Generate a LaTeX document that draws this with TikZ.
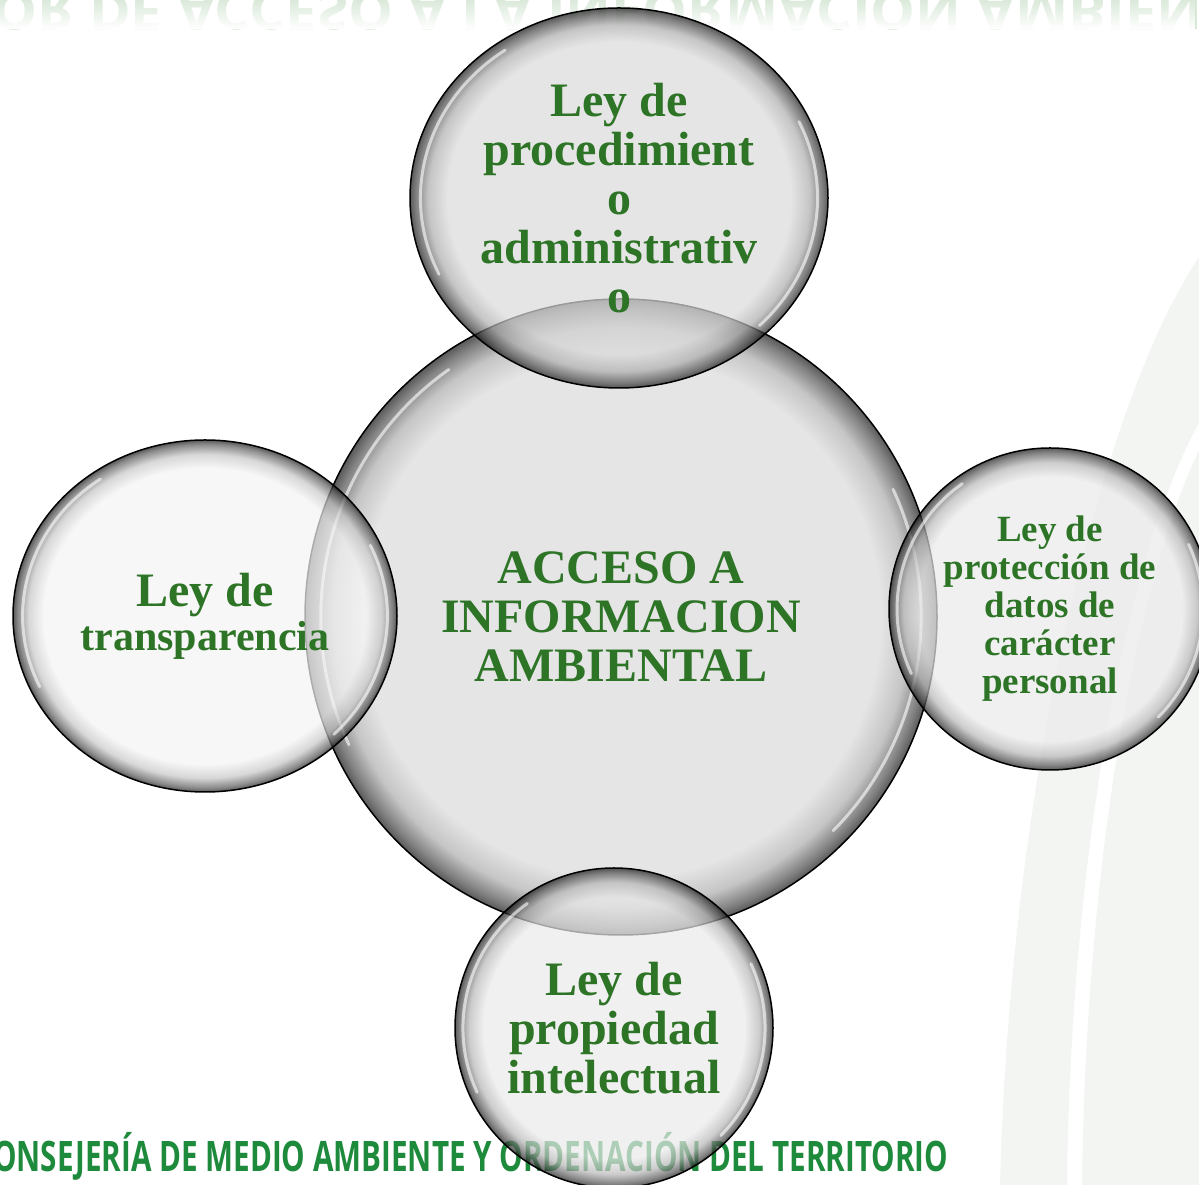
\documentclass[tikz,border=0pt]{standalone}
\usepackage{fontspec}
\setmainfont{Liberation Serif}
\newfontfamily\logofont{Open Sans}
\usetikzlibrary{shapes.geometric,fadings,calc}

\definecolor{leygreen}{RGB}{45,116,38}
\definecolor{logogreen}{RGB}{30,138,60}
\definecolor{ghostgreen}{RGB}{212,230,212}
\definecolor{swoosh}{RGB}{243,245,243}

\pgfdeclareradialshading{glassdark}{\pgfpointorigin}{color(0bp)=(black!14); color(20.5bp)=(black!14); color(22.8bp)=(black!32); color(24.3bp)=(black!70); color(25bp)=(black!92); color(50bp)=(black!92)}
\pgfdeclareradialshading{glassmid}{\pgfpointorigin}{color(0bp)=(black!8); color(20.5bp)=(black!8); color(22.8bp)=(black!28); color(24.3bp)=(black!68); color(25bp)=(black!92); color(50bp)=(black!92)}
\pgfdeclareradialshading{glasslight}{\pgfpointorigin}{color(0bp)=(black!4); color(21bp)=(black!4); color(23bp)=(black!22); color(24.4bp)=(black!65); color(25bp)=(black!92); color(50bp)=(black!92)}

\tikzset{
  glass/.style={ellipse, shade, draw=black, line width=1.5pt, fill opacity=0.7, text opacity=1,
    inner sep=0pt, align=center, text=leygreen, font=\bfseries\fontsize{48}{49}\selectfont},
  glint/.style={white, line width=3pt, line cap=round, opacity=0.6}
}

\newcommand\glint[3]{%
  \draw[glint] ($(#1.center)+(125:{0.95*#2} and {0.95*#3})$) arc[start angle=125, end angle=205, x radius={0.95*#2}, y radius={0.95*#3}];
  \draw[glint] ($(#1.center)+(-45:{0.95*#2} and {0.95*#3})$) arc[start angle=-45, end angle=25, x radius={0.95*#2}, y radius={0.95*#3}];}

\begin{document}
\begin{tikzpicture}[x=1pt,y=1pt]
\useasboundingbox (0,0) rectangle (1199,1185);
\clip (0,0) rectangle (1199,1185);
\fill[white] (0,0) rectangle (1199,1185);

% background swooshes
\fill[swoosh] (1199,928) .. controls (1100,780) and (1010,400) .. (1000,0) -- (1067,0)
  .. controls (1070,300) and (1120,620) .. (1199,762) -- cycle;
\fill[swoosh] (1199,735) .. controls (1130,590) and (1085,290) .. (1082,0) -- (1199,0) -- cycle;

% mirrored title and logo line
\node[anchor=base west, inner sep=0pt, text=ghostgreen] (ghost) at (-8,1192)
  {\scalebox{1}[-1]{\resizebox{1310pt}{\height}{\logofont\bfseries\fontsize{52}{52}\selectfont OR DE ACCESO A LA INFORMACION AMBIENTAL}}};
\fill[white, path fading=north] (0,1156) rectangle (1199,1190);
\node[anchor=base west, inner sep=0pt, text=logogreen] (consejeria) at (-7,13)
  {\resizebox{955pt}{\height}{\logofont\bfseries\fontsize{42}{42}\selectfont ONSEJERÍA DE MEDIO AMBIENTE Y ORDENACIÓN DEL TERRITORIO}};

% bubbles
\node[glass, shading=glassdark, minimum width=632pt, minimum height=636pt] (acceso) at (621,568)
  {ACCESO A\\INFORMACION\\AMBIENTAL};
\glint{acceso}{316}{318}
\node[glass, shading=glassdark, minimum width=418pt, minimum height=380pt] (procedimiento) at (619,987)
  {Ley de\\procedimient\\o\\administrativ\\o};
\glint{procedimiento}{209}{190}
\node[glass, shading=glasslight, minimum width=384pt, minimum height=352pt] (transparencia) at (205,569)
  {Ley de\\[-5pt]{\fontsize{42}{44}\selectfont transparencia}};
\glint{transparencia}{192}{176}
\node[glass, shading=glassmid, minimum width=322pt, minimum height=322pt,
  font=\bfseries\fontsize{37}{38}\selectfont] (datos) at (1050,576)
  {Ley de\\protección de\\datos de\\carácter\\personal};
\glint{datos}{161}{161}
\node[glass, shading=glassmid, minimum width=318pt, minimum height=320pt] (propiedad) at (614,157)
  {Ley de\\propiedad\\intelectual};
\glint{propiedad}{159}{160}
\end{tikzpicture}
\end{document}
